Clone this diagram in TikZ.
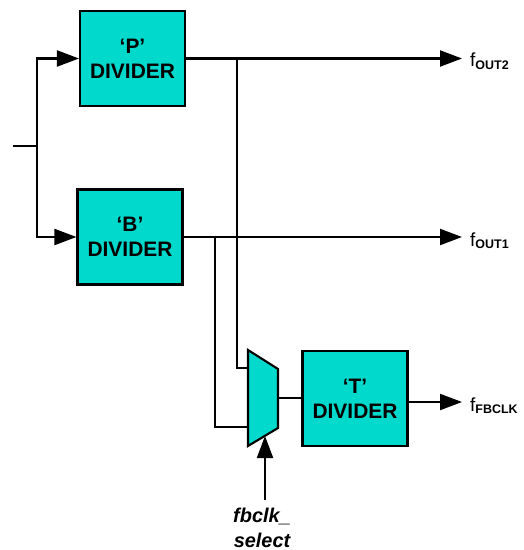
\documentclass[tikz,border=0pt]{standalone}
\usepackage{fontspec}
\setmainfont{Liberation Sans}
\usetikzlibrary{arrows.meta}
\definecolor{divcyan}{RGB}{0,217,204}
\tikzset{
  wire/.style={line width=2.1bp},
  arr/.style={wire,-{Triangle[length=22bp,width=16bp]}},
  divbox/.style={draw,line width=2.1bp,fill=divcyan,minimum width=105bp,minimum height=95bp,
    align=center,inner sep=0pt,font=\bfseries\fontsize{21}{25}\selectfont},
  outlbl/.style={anchor=base west,inner sep=0pt,font=\fontsize{19}{20}\selectfont},
}
\newcommand{\sublbl}[1]{\raisebox{-2.5bp}{\fontsize{12.5}{12.5}\selectfont\bfseries #1}}
\begin{document}
\begin{tikzpicture}[x=1bp,y=-1bp]
\useasboundingbox (0,0) rectangle (524,550);
% boxes
\node[divbox] (P) at (132.5,58.5) {‘P’\\DIVIDER};
\node[divbox] (B) at (130,237) {‘B’\\DIVIDER};
\node[divbox] (T) at (355,398.5) {‘T’\\DIVIDER};
% mux
\coordinate (mTL) at (248,350);
\coordinate (mBL) at (248,446);
\coordinate (mTR) at (278,369);
\coordinate (mBR) at (278,428);
\draw[line width=2.1bp,fill=divcyan,line join=miter] (mTL) -- (mTR) -- (mBR) -- (mBL) -- cycle;
\coordinate (muxA) at (248,368);
\coordinate (muxB) at (248,427);
\coordinate (muxO) at (278,398);
\coordinate (muxS) at (265,436);
% input
\coordinate (in) at (13,146);
\coordinate (split) at (37,146);
\draw[wire] (in) -- (split);
\draw[arr] (split) |- (P.west);
\draw[arr] (split) |- (B.west);
% outputs
\coordinate (oP) at (462,58.5);
\coordinate (oB) at (462,237);
\coordinate (oT) at (462,402);
\draw[arr] (P.east) -- (oP);
\draw[arr] (B.east) -- (oB);
\draw[arr] (T.east |- oT) -- (oT);
\node[outlbl] (lP) at (470,67) {f\sublbl{OUT2}};
\node[outlbl] (lB) at (470,246) {f\sublbl{OUT1}};
\node[outlbl] (lT) at (470,411) {f\sublbl{FBCLK}};
% taps into mux
\coordinate (tapP) at (237,58.5);
\coordinate (tapB) at (215,237);
\draw[wire] (tapP) |- (muxA);
\draw[wire] (tapB) |- (muxB);
\draw[wire] (muxO) -- (T.west |- muxO);
% select
\coordinate (sel) at (265,500);
\draw[arr] (sel) -- (muxS);
\node[align=center,inner sep=0pt,anchor=base,font=\bfseries\itshape\fontsize{20}{25}\selectfont] (selL) at (262,547) {fbclk\_\\select};
\end{tikzpicture}
\end{document}
